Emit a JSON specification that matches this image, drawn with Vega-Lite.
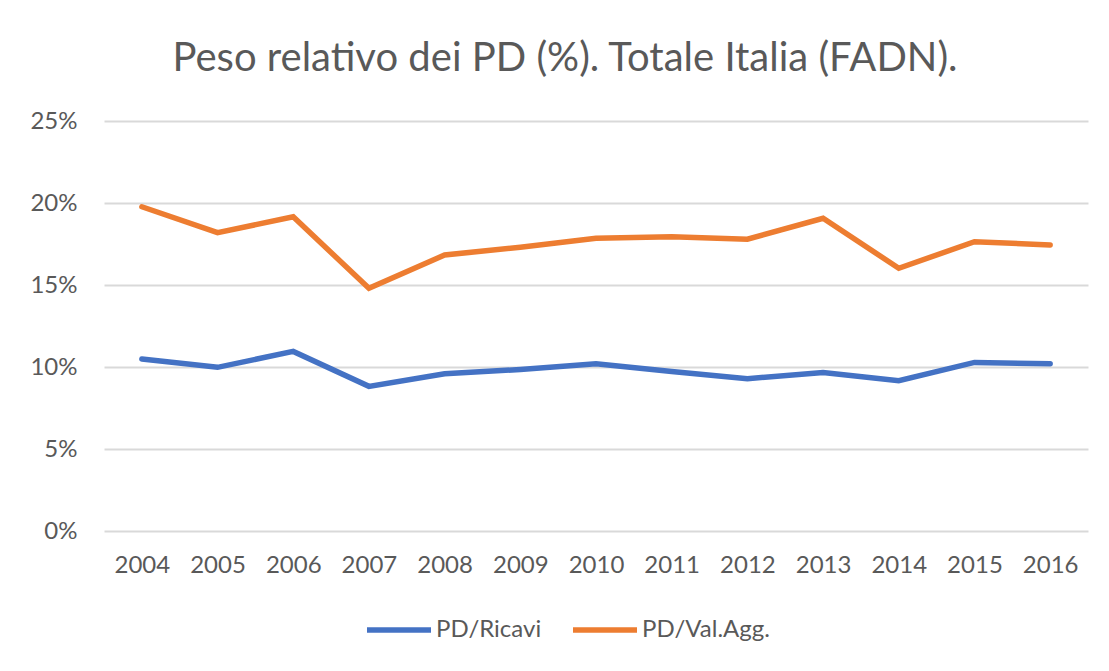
{
  "$schema": "https://vega.github.io/schema/vega-lite/v6.json",
  "autosize": "none",
  "width": 984,
  "height": 410,
  "padding": {"left": 104, "top": 121, "right": 21, "bottom": 140},
  "background": "white",
  "title": {
    "text": "Peso relativo dei PD (%). Totale Italia (FADN).",
    "font": "Lato",
    "fontSize": 40,
    "fontWeight": "normal",
    "color": "#595959",
    "anchor": "middle",
    "offset": 30,
    "dx": -31
  },
  "data": {
    "values": [
      {"year": "2004", "serie": "PD/Ricavi", "value": 10.49},
      {"year": "2005", "serie": "PD/Ricavi", "value": 9.98},
      {"year": "2006", "serie": "PD/Ricavi", "value": 10.95},
      {"year": "2007", "serie": "PD/Ricavi", "value": 8.82},
      {"year": "2008", "serie": "PD/Ricavi", "value": 9.59},
      {"year": "2009", "serie": "PD/Ricavi", "value": 9.85},
      {"year": "2010", "serie": "PD/Ricavi", "value": 10.2},
      {"year": "2011", "serie": "PD/Ricavi", "value": 9.73},
      {"year": "2012", "serie": "PD/Ricavi", "value": 9.29},
      {"year": "2013", "serie": "PD/Ricavi", "value": 9.67},
      {"year": "2014", "serie": "PD/Ricavi", "value": 9.16},
      {"year": "2015", "serie": "PD/Ricavi", "value": 10.28},
      {"year": "2016", "serie": "PD/Ricavi", "value": 10.2},
      {"year": "2004", "serie": "PD/Val.Agg.", "value": 19.77},
      {"year": "2005", "serie": "PD/Val.Agg.", "value": 18.19},
      {"year": "2006", "serie": "PD/Val.Agg.", "value": 19.16},
      {"year": "2007", "serie": "PD/Val.Agg.", "value": 14.8},
      {"year": "2008", "serie": "PD/Val.Agg.", "value": 16.83},
      {"year": "2009", "serie": "PD/Val.Agg.", "value": 17.3},
      {"year": "2010", "serie": "PD/Val.Agg.", "value": 17.85},
      {"year": "2011", "serie": "PD/Val.Agg.", "value": 17.94},
      {"year": "2012", "serie": "PD/Val.Agg.", "value": 17.79},
      {"year": "2013", "serie": "PD/Val.Agg.", "value": 19.07},
      {"year": "2014", "serie": "PD/Val.Agg.", "value": 16.02},
      {"year": "2015", "serie": "PD/Val.Agg.", "value": 17.64},
      {"year": "2016", "serie": "PD/Val.Agg.", "value": 17.44}
    ]
  },
  "mark": {"type": "line", "strokeWidth": 5.5, "strokeCap": "round", "strokeJoin": "miter"},
  "encoding": {
    "x": {
      "field": "year",
      "type": "ordinal",
      "scale": {"type": "point", "padding": 0.5},
      "axis": {
        "title": null,
        "labelAngle": 0,
        "domain": false,
        "ticks": false,
        "grid": false,
        "labelFont": "Lato",
        "labelFontSize": 24,
        "labelColor": "#595959",
        "labelPadding": 22
      }
    },
    "y": {
      "field": "value",
      "type": "quantitative",
      "scale": {"domain": [0, 25], "nice": false},
      "axis": {
        "title": null,
        "values": [0, 5, 10, 15, 20, 25],
        "labelExpr": "datum.value + '%'",
        "domain": false,
        "ticks": false,
        "grid": true,
        "gridColor": "#D9D9D9",
        "gridWidth": 2,
        "labelFont": "Lato",
        "labelFontSize": 24,
        "labelColor": "#595959",
        "labelPadding": 27
      }
    },
    "color": {
      "field": "serie",
      "type": "nominal",
      "scale": {"domain": ["PD/Ricavi", "PD/Val.Agg."], "range": ["#4472C4", "#ED7D31"]},
      "legend": {
        "title": null,
        "orient": "none",
        "legendX": 260,
        "legendY": 474,
        "direction": "horizontal",
        "symbolType": "stroke",
        "symbolSize": 4096,
        "symbolStrokeWidth": 5.5,
        "labelFont": "Lato",
        "labelFontSize": 24,
        "labelColor": "#595959",
        "labelOffset": 2,
        "columnPadding": 20
      }
    }
  },
  "config": {"view": {"stroke": null}}
}
